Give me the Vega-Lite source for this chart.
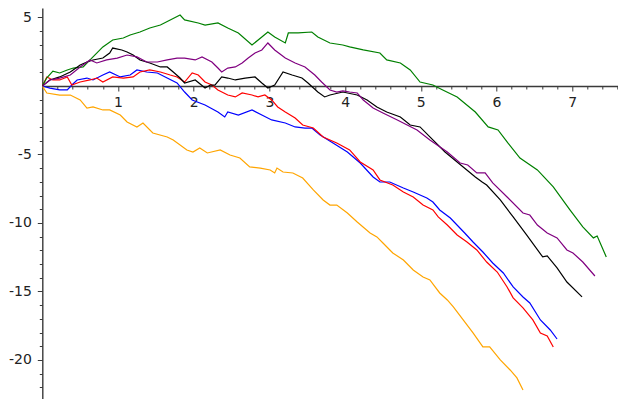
{
 "$schema": "https://vega.github.io/schema/vega-lite/v6.json",
 "width": 575.7, "height": 391,
 "autosize": {"type": "none"},
 "padding": {"left": 42.3, "top": 8, "right": 0, "bottom": 0},
 "background": "white",
 "config": {"view": {"stroke": null}},
 "datasets": {
  "walks": [
   {"s":"blue","x":0,"y":0},{"s":"blue","x":0.10,"y":-0.15},{"s":"blue","x":0.23,"y":-0.29},{"s":"blue","x":0.33,"y":-0.29},{"s":"blue","x":0.39,"y":0.07},{"s":"blue","x":0.46,"y":0.44},{"s":"blue","x":0.59,"y":0.58},{"s":"blue","x":0.67,"y":0.44},{"s":"blue","x":0.80,"y":0.80},{"s":"blue","x":0.89,"y":1.02},{"s":"blue","x":1.03,"y":0.66},{"s":"blue","x":1.16,"y":0.80},{"s":"blue","x":1.25,"y":1.17},{"s":"blue","x":1.38,"y":1.02},{"s":"blue","x":1.52,"y":0.95},{"s":"blue","x":1.65,"y":0.58},{"s":"blue","x":1.78,"y":0.22},{"s":"blue","x":1.88,"y":-0.44},{"s":"blue","x":1.98,"y":-1.02},{"s":"blue","x":2.15,"y":-1.39},{"s":"blue","x":2.32,"y":-1.90},{"s":"blue","x":2.41,"y":-2.26},{"s":"blue","x":2.45,"y":-1.90},{"s":"blue","x":2.59,"y":-2.12},{"s":"blue","x":2.77,"y":-1.75},{"s":"blue","x":2.90,"y":-2.12},{"s":"blue","x":3.03,"y":-2.48},{"s":"blue","x":3.21,"y":-2.70},{"s":"blue","x":3.34,"y":-2.99},{"s":"blue","x":3.47,"y":-3.07},{"s":"blue","x":3.56,"y":-3.07},{"s":"blue","x":3.67,"y":-3.58},{"s":"blue","x":3.84,"y":-4.16},{"s":"blue","x":4.03,"y":-4.82},{"s":"blue","x":4.20,"y":-5.62},{"s":"blue","x":4.37,"y":-6.64},{"s":"blue","x":4.46,"y":-7.01},{"s":"blue","x":4.59,"y":-7.01},{"s":"blue","x":4.77,"y":-7.45},{"s":"blue","x":4.90,"y":-7.74},{"s":"blue","x":5.08,"y":-8.18},{"s":"blue","x":5.16,"y":-8.47},{"s":"blue","x":5.25,"y":-9.05},{"s":"blue","x":5.39,"y":-9.64},{"s":"blue","x":5.58,"y":-10.73},{"s":"blue","x":5.69,"y":-11.39},{"s":"blue","x":5.82,"y":-12.12},{"s":"blue","x":5.95,"y":-12.92},{"s":"blue","x":6.09,"y":-13.65},{"s":"blue","x":6.22,"y":-14.67},{"s":"blue","x":6.35,"y":-15.40},{"s":"blue","x":6.44,"y":-15.84},{"s":"blue","x":6.58,"y":-17.08},{"s":"blue","x":6.71,"y":-17.81},{"s":"blue","x":6.80,"y":-18.47},
   {"s":"red","x":0,"y":0},{"s":"red","x":0.06,"y":0.66},{"s":"red","x":0.14,"y":0.44},{"s":"red","x":0.23,"y":0.44},{"s":"red","x":0.33,"y":0.66},{"s":"red","x":0.39,"y":0.07},{"s":"red","x":0.50,"y":0.29},{"s":"red","x":0.63,"y":0.44},{"s":"red","x":0.72,"y":0.58},{"s":"red","x":0.80,"y":0.29},{"s":"red","x":0.93,"y":0.66},{"s":"red","x":1.07,"y":0.58},{"s":"red","x":1.20,"y":0.66},{"s":"red","x":1.29,"y":1.02},{"s":"red","x":1.42,"y":1.17},{"s":"red","x":1.56,"y":1.02},{"s":"red","x":1.69,"y":0.80},{"s":"red","x":1.78,"y":0.66},{"s":"red","x":1.88,"y":0.29},{"s":"red","x":1.98,"y":0.95},{"s":"red","x":2.06,"y":0.80},{"s":"red","x":2.15,"y":0.29},{"s":"red","x":2.24,"y":0.07},{"s":"red","x":2.32,"y":-0.29},{"s":"red","x":2.45,"y":-0.66},{"s":"red","x":2.55,"y":-0.80},{"s":"red","x":2.64,"y":-0.51},{"s":"red","x":2.77,"y":-0.66},{"s":"red","x":2.85,"y":-0.80},{"s":"red","x":2.94,"y":-0.66},{"s":"red","x":3.03,"y":-1.02},{"s":"red","x":3.11,"y":-1.53},{"s":"red","x":3.21,"y":-1.90},{"s":"red","x":3.34,"y":-2.34},{"s":"red","x":3.44,"y":-2.85},{"s":"red","x":3.58,"y":-3.07},{"s":"red","x":3.71,"y":-3.72},{"s":"red","x":3.89,"y":-4.16},{"s":"red","x":4.06,"y":-4.67},{"s":"red","x":4.20,"y":-5.55},{"s":"red","x":4.37,"y":-6.13},{"s":"red","x":4.46,"y":-6.86},{"s":"red","x":4.63,"y":-7.23},{"s":"red","x":4.77,"y":-7.74},{"s":"red","x":4.90,"y":-8.10},{"s":"red","x":5.03,"y":-8.69},{"s":"red","x":5.16,"y":-9.05},{"s":"red","x":5.23,"y":-9.56},{"s":"red","x":5.35,"y":-10.15},{"s":"red","x":5.48,"y":-10.88},{"s":"red","x":5.61,"y":-11.39},{"s":"red","x":5.74,"y":-11.97},{"s":"red","x":5.87,"y":-12.85},{"s":"red","x":6.01,"y":-13.58},{"s":"red","x":6.14,"y":-14.67},{"s":"red","x":6.22,"y":-15.47},{"s":"red","x":6.35,"y":-16.20},{"s":"red","x":6.48,"y":-17.08},{"s":"red","x":6.58,"y":-18.03},{"s":"red","x":6.67,"y":-18.25},{"s":"red","x":6.75,"y":-19.05},
   {"s":"green","x":0,"y":0},{"s":"green","x":0.06,"y":0.6},{"s":"green","x":0.14,"y":1.09},{"s":"green","x":0.23,"y":0.95},{"s":"green","x":0.33,"y":1.17},{"s":"green","x":0.41,"y":1.31},{"s":"green","x":0.54,"y":1.39},{"s":"green","x":0.67,"y":2.12},{"s":"green","x":0.80,"y":2.85},{"s":"green","x":0.93,"y":3.36},{"s":"green","x":1.07,"y":3.50},{"s":"green","x":1.16,"y":3.72},{"s":"green","x":1.29,"y":3.94},{"s":"green","x":1.42,"y":4.23},{"s":"green","x":1.56,"y":4.45},{"s":"green","x":1.69,"y":4.82},{"s":"green","x":1.82,"y":5.18},{"s":"green","x":1.88,"y":4.82},{"s":"green","x":2.06,"y":4.60},{"s":"green","x":2.15,"y":4.45},{"s":"green","x":2.32,"y":4.60},{"s":"green","x":2.45,"y":4.23},{"s":"green","x":2.59,"y":3.87},{"s":"green","x":2.77,"y":2.99},{"s":"green","x":2.90,"y":3.58},{"s":"green","x":2.98,"y":3.94},{"s":"green","x":3.07,"y":3.58},{"s":"green","x":3.21,"y":3.14},{"s":"green","x":3.25,"y":3.87},{"s":"green","x":3.38,"y":3.87},{"s":"green","x":3.56,"y":3.94},{"s":"green","x":3.64,"y":3.58},{"s":"green","x":3.80,"y":3.14},{"s":"green","x":3.97,"y":2.99},{"s":"green","x":4.06,"y":2.85},{"s":"green","x":4.24,"y":2.63},{"s":"green","x":4.46,"y":2.41},{"s":"green","x":4.55,"y":1.90},{"s":"green","x":4.73,"y":1.68},{"s":"green","x":4.86,"y":1.17},{"s":"green","x":4.99,"y":0.29},{"s":"green","x":5.16,"y":0.07},{"s":"green","x":5.29,"y":-0.29},{"s":"green","x":5.48,"y":-0.80},{"s":"green","x":5.72,"y":-1.90},{"s":"green","x":5.89,"y":-2.99},{"s":"green","x":6.02,"y":-3.21},{"s":"green","x":6.15,"y":-4.16},{"s":"green","x":6.31,"y":-5.26},{"s":"green","x":6.54,"y":-6.13},{"s":"green","x":6.75,"y":-7.37},{"s":"green","x":6.97,"y":-9.05},{"s":"green","x":7.14,"y":-10.29},{"s":"green","x":7.28,"y":-11.09},{"s":"green","x":7.33,"y":-10.95},{"s":"green","x":7.45,"y":-12.48},
   {"s":"orange","x":0,"y":0},{"s":"orange","x":0.06,"y":-0.51},{"s":"orange","x":0.23,"y":-0.66},{"s":"orange","x":0.37,"y":-0.66},{"s":"orange","x":0.50,"y":-1.02},{"s":"orange","x":0.59,"y":-1.61},{"s":"orange","x":0.67,"y":-1.53},{"s":"orange","x":0.80,"y":-1.75},{"s":"orange","x":0.89,"y":-1.75},{"s":"orange","x":1.03,"y":-2.12},{"s":"orange","x":1.12,"y":-2.63},{"s":"orange","x":1.25,"y":-2.99},{"s":"orange","x":1.33,"y":-2.70},{"s":"orange","x":1.46,"y":-3.43},{"s":"orange","x":1.65,"y":-3.72},{"s":"orange","x":1.73,"y":-3.94},{"s":"orange","x":1.91,"y":-4.67},{"s":"orange","x":1.99,"y":-4.82},{"s":"orange","x":2.08,"y":-4.53},{"s":"orange","x":2.18,"y":-4.89},{"s":"orange","x":2.35,"y":-4.67},{"s":"orange","x":2.48,"y":-5.04},{"s":"orange","x":2.61,"y":-5.26},{"s":"orange","x":2.74,"y":-5.91},{"s":"orange","x":2.88,"y":-5.99},{"s":"orange","x":3.01,"y":-6.13},{"s":"orange","x":3.07,"y":-6.35},{"s":"orange","x":3.10,"y":-5.99},{"s":"orange","x":3.18,"y":-6.28},{"s":"orange","x":3.31,"y":-6.35},{"s":"orange","x":3.44,"y":-6.72},{"s":"orange","x":3.58,"y":-7.59},{"s":"orange","x":3.71,"y":-8.32},{"s":"orange","x":3.80,"y":-8.69},{"s":"orange","x":3.89,"y":-8.69},{"s":"orange","x":4.03,"y":-9.27},{"s":"orange","x":4.16,"y":-9.93},{"s":"orange","x":4.33,"y":-10.73},{"s":"orange","x":4.42,"y":-11.02},{"s":"orange","x":4.50,"y":-11.46},{"s":"orange","x":4.63,"y":-12.19},{"s":"orange","x":4.77,"y":-12.70},{"s":"orange","x":4.90,"y":-13.43},{"s":"orange","x":5.03,"y":-13.94},{"s":"orange","x":5.12,"y":-14.16},{"s":"orange","x":5.25,"y":-15.11},{"s":"orange","x":5.35,"y":-15.62},{"s":"orange","x":5.43,"y":-16.13},{"s":"orange","x":5.56,"y":-17.08},{"s":"orange","x":5.69,"y":-18.03},{"s":"orange","x":5.82,"y":-19.05},{"s":"orange","x":5.91,"y":-19.05},{"s":"orange","x":6.05,"y":-20.0},{"s":"orange","x":6.18,"y":-20.73},{"s":"orange","x":6.27,"y":-21.31},{"s":"orange","x":6.35,"y":-22.19},
   {"s":"black","x":0,"y":0},{"s":"black","x":0.10,"y":0.44},{"s":"black","x":0.23,"y":0.66},{"s":"black","x":0.37,"y":1.02},{"s":"black","x":0.50,"y":1.53},{"s":"black","x":0.59,"y":1.75},{"s":"black","x":0.67,"y":1.90},{"s":"black","x":0.80,"y":2.04},{"s":"black","x":0.89,"y":2.41},{"s":"black","x":0.93,"y":2.77},{"s":"black","x":1.05,"y":2.63},{"s":"black","x":1.12,"y":2.48},{"s":"black","x":1.20,"y":2.26},{"s":"black","x":1.29,"y":1.90},{"s":"black","x":1.42,"y":1.68},{"s":"black","x":1.56,"y":1.39},{"s":"black","x":1.65,"y":1.39},{"s":"black","x":1.73,"y":1.02},{"s":"black","x":1.82,"y":0.58},{"s":"black","x":1.88,"y":0.22},{"s":"black","x":2.02,"y":0.44},{"s":"black","x":2.15,"y":-0.15},{"s":"black","x":2.22,"y":0.07},{"s":"black","x":2.28,"y":0.07},{"s":"black","x":2.37,"y":0.66},{"s":"black","x":2.45,"y":0.58},{"s":"black","x":2.55,"y":0.44},{"s":"black","x":2.68,"y":0.58},{"s":"black","x":2.81,"y":0.66},{"s":"black","x":2.90,"y":0.22},{"s":"black","x":2.98,"y":-0.15},{"s":"black","x":3.07,"y":0.07},{"s":"black","x":3.18,"y":1.02},{"s":"black","x":3.30,"y":0.80},{"s":"black","x":3.43,"y":0.58},{"s":"black","x":3.51,"y":0.22},{"s":"black","x":3.64,"y":-0.44},{"s":"black","x":3.73,"y":-0.80},{"s":"black","x":3.80,"y":-0.66},{"s":"black","x":3.97,"y":-0.44},{"s":"black","x":4.16,"y":-0.66},{"s":"black","x":4.29,"y":-1.02},{"s":"black","x":4.42,"y":-1.53},{"s":"black","x":4.55,"y":-1.90},{"s":"black","x":4.73,"y":-2.26},{"s":"black","x":4.86,"y":-2.85},{"s":"black","x":4.99,"y":-2.99},{"s":"black","x":5.12,"y":-3.72},{"s":"black","x":5.32,"y":-4.82},{"s":"black","x":5.56,"y":-5.91},{"s":"black","x":5.72,"y":-6.64},{"s":"black","x":5.81,"y":-7.01},{"s":"black","x":5.87,"y":-7.23},{"s":"black","x":6.05,"y":-8.32},{"s":"black","x":6.22,"y":-9.56},{"s":"black","x":6.40,"y":-10.88},{"s":"black","x":6.61,"y":-12.48},{"s":"black","x":6.67,"y":-12.41},{"s":"black","x":6.80,"y":-13.28},{"s":"black","x":6.93,"y":-14.31},{"s":"black","x":7.13,"y":-15.40},
   {"s":"purple","x":0,"y":0},{"s":"purple","x":0.10,"y":0.44},{"s":"purple","x":0.23,"y":0.58},{"s":"purple","x":0.37,"y":0.80},{"s":"purple","x":0.50,"y":1.39},{"s":"purple","x":0.63,"y":1.90},{"s":"purple","x":0.72,"y":1.68},{"s":"purple","x":0.85,"y":1.90},{"s":"purple","x":0.99,"y":2.04},{"s":"purple","x":1.12,"y":2.26},{"s":"purple","x":1.25,"y":2.12},{"s":"purple","x":1.38,"y":1.75},{"s":"purple","x":1.52,"y":1.75},{"s":"purple","x":1.65,"y":1.90},{"s":"purple","x":1.78,"y":2.04},{"s":"purple","x":1.88,"y":2.04},{"s":"purple","x":2.02,"y":1.90},{"s":"purple","x":2.11,"y":2.12},{"s":"purple","x":2.24,"y":1.75},{"s":"purple","x":2.32,"y":1.31},{"s":"purple","x":2.37,"y":1.02},{"s":"purple","x":2.45,"y":1.31},{"s":"purple","x":2.55,"y":1.39},{"s":"purple","x":2.64,"y":1.68},{"s":"purple","x":2.72,"y":2.04},{"s":"purple","x":2.81,"y":2.41},{"s":"purple","x":2.90,"y":2.63},{"s":"purple","x":2.98,"y":3.14},{"s":"purple","x":3.07,"y":2.63},{"s":"purple","x":3.21,"y":2.04},{"s":"purple","x":3.34,"y":1.68},{"s":"purple","x":3.47,"y":1.39},{"s":"purple","x":3.60,"y":0.80},{"s":"purple","x":3.69,"y":0.29},{"s":"purple","x":3.80,"y":-0.29},{"s":"purple","x":3.89,"y":-0.44},{"s":"purple","x":3.97,"y":-0.36},{"s":"purple","x":4.06,"y":-0.44},{"s":"purple","x":4.16,"y":-0.51},{"s":"purple","x":4.24,"y":-1.02},{"s":"purple","x":4.37,"y":-1.61},{"s":"purple","x":4.50,"y":-1.97},{"s":"purple","x":4.69,"y":-2.48},{"s":"purple","x":4.82,"y":-2.85},{"s":"purple","x":4.95,"y":-3.21},{"s":"purple","x":5.12,"y":-3.94},{"s":"purple","x":5.35,"y":-4.82},{"s":"purple","x":5.52,"y":-5.62},{"s":"purple","x":5.62,"y":-5.77},{"s":"purple","x":5.74,"y":-6.35},{"s":"purple","x":5.85,"y":-6.35},{"s":"purple","x":5.95,"y":-7.08},{"s":"purple","x":6.14,"y":-8.10},{"s":"purple","x":6.35,"y":-9.27},{"s":"purple","x":6.44,"y":-9.42},{"s":"purple","x":6.54,"y":-10.15},{"s":"purple","x":6.67,"y":-10.73},{"s":"purple","x":6.80,"y":-11.09},{"s":"purple","x":6.93,"y":-11.97},{"s":"purple","x":7.01,"y":-12.19},{"s":"purple","x":7.14,"y":-12.85},{"s":"purple","x":7.30,"y":-13.87}
  ]
 },
 "data": {"name": "walks"},
 "mark": {"type": "line", "strokeWidth": 1.2, "clip": true},
 "encoding": {
  "x": {
   "field": "x", "type": "quantitative",
   "scale": {"domain": [0, 7.605], "nice": false, "zero": false},
   "axis": {
    "orient": "bottom", "offset": -313, "title": null, "grid": false,
    "values": [0.2,0.4,0.6,0.8,1,1.2,1.4,1.6,1.8,2,2.2,2.4,2.6,2.8,3,3.2,3.4,3.6,3.8,4,4.2,4.4,4.6,4.8,5,5.2,5.4,5.6,5.8,6,6.2,6.4,6.6,6.8,7,7.2,7.4,7.6],
    "labelExpr": "abs(datum.value - round(datum.value)) < 0.001 ? '' + round(datum.value) : ''",
    "tickSize": {"condition": {"test": "abs(datum.value - round(datum.value)) < 0.001", "value": 5}, "value": 3},
    "domainColor": "#3a3a3a", "domainWidth": 1.4, "tickColor": "#3a3a3a", "tickWidth": 1,
    "labelFont": "DejaVu Sans", "labelFontSize": 14, "labelColor": "#222222", "labelPadding": 4,
    "labelFlush": false, "labelOverlap": false
   }
  },
  "y": {
   "field": "y", "type": "quantitative",
   "scale": {"domain": [-22.85, 5.693], "nice": false, "zero": false},
   "axis": {
    "orient": "left", "offset": 0, "title": null, "grid": false,
    "values": [-22,-21,-20,-19,-18,-17,-16,-15,-14,-13,-12,-11,-10,-9,-8,-7,-6,-5,-4,-3,-2,-1,1,2,3,4,5],
    "labelExpr": "datum.value % 5 == 0 ? '' + datum.value : ''",
    "tickSize": {"condition": {"test": "datum.value % 5 == 0", "value": 5}, "value": 3},
    "domainColor": "#3a3a3a", "domainWidth": 1.4, "tickColor": "#3a3a3a", "tickWidth": 1,
    "labelFont": "DejaVu Sans", "labelFontSize": 14, "labelColor": "#222222", "labelPadding": 6,
    "labelFlush": false, "labelOverlap": false
   }
  },
  "color": {
   "field": "s", "type": "nominal",
   "scale": {"domain": ["blue","red","green","orange","black","purple"], "range": ["#0000ff","#ff0000","#008000","#ffa500","#000000","#800080"]},
   "legend": null
  }
 }
}
